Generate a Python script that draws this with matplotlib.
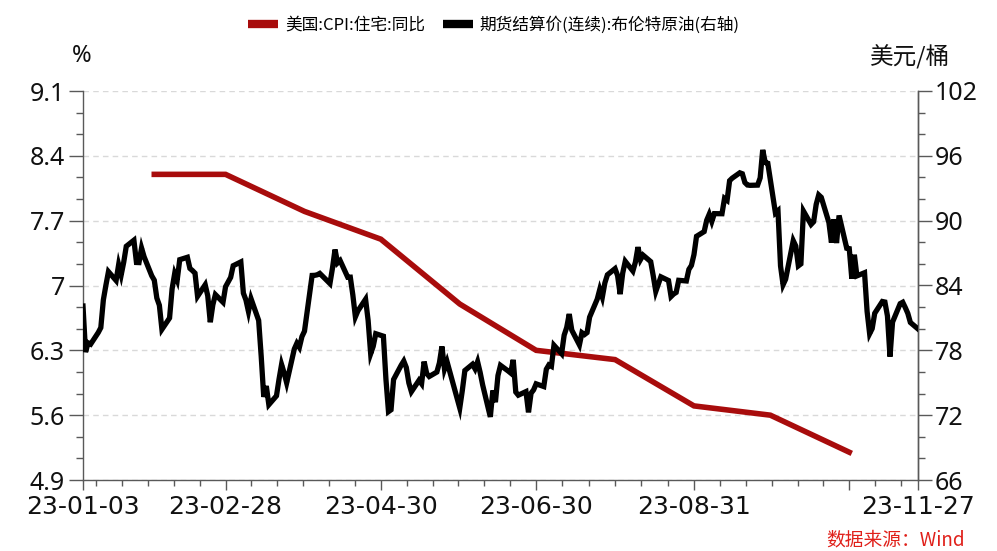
import matplotlib
matplotlib.use('Agg')
import matplotlib.pyplot as plt
import matplotlib.dates as mdates
from matplotlib.lines import Line2D
from matplotlib.font_manager import FontProperties
import numpy as np
import pandas as pd

# ---------------- data ----------------
cpi_dates = ['2023-01-31', '2023-02-28', '2023-03-31', '2023-04-30', '2023-05-31',
             '2023-06-30', '2023-07-31', '2023-08-31', '2023-09-30', '2023-10-31']
cpi_values = [8.2, 8.2, 7.8, 7.5, 6.8, 6.3, 6.2, 5.7, 5.6, 5.2]

brent_dates = [
    '2023-01-03', '2023-01-04', '2023-01-05', '2023-01-06', '2023-01-09', '2023-01-10', '2023-01-11',
    '2023-01-12', '2023-01-13', '2023-01-16', '2023-01-17', '2023-01-18', '2023-01-19', '2023-01-20',
    '2023-01-23', '2023-01-24', '2023-01-25', '2023-01-26', '2023-01-27', '2023-01-30', '2023-01-31',
    '2023-02-01', '2023-02-02', '2023-02-03', '2023-02-06', '2023-02-07', '2023-02-08', '2023-02-09',
    '2023-02-10', '2023-02-13', '2023-02-14', '2023-02-15', '2023-02-16', '2023-02-17', '2023-02-20',
    '2023-02-21', '2023-02-22', '2023-02-23', '2023-02-24', '2023-02-27', '2023-02-28',
    '2023-03-01', '2023-03-02', '2023-03-03', '2023-03-06', '2023-03-07', '2023-03-08', '2023-03-09',
    '2023-03-10', '2023-03-13', '2023-03-14', '2023-03-15', '2023-03-16', '2023-03-17', '2023-03-20',
    '2023-03-21', '2023-03-22', '2023-03-23', '2023-03-24', '2023-03-27', '2023-03-28', '2023-03-29',
    '2023-03-30', '2023-03-31',
    '2023-04-03', '2023-04-04', '2023-04-05', '2023-04-06', '2023-04-10', '2023-04-11', '2023-04-12',
    '2023-04-13', '2023-04-14', '2023-04-17', '2023-04-18', '2023-04-19', '2023-04-20', '2023-04-21',
    '2023-04-24', '2023-04-25', '2023-04-26', '2023-04-27', '2023-04-28',
    '2023-05-01', '2023-05-02', '2023-05-03', '2023-05-04', '2023-05-05', '2023-05-08', '2023-05-09',
    '2023-05-10', '2023-05-11', '2023-05-12', '2023-05-15', '2023-05-16', '2023-05-17', '2023-05-18',
    '2023-05-19', '2023-05-22', '2023-05-23', '2023-05-24', '2023-05-25', '2023-05-26', '2023-05-30',
    '2023-05-31',
    '2023-06-01', '2023-06-02', '2023-06-05', '2023-06-06', '2023-06-07', '2023-06-08', '2023-06-09',
    '2023-06-12', '2023-06-13', '2023-06-14', '2023-06-15', '2023-06-16', '2023-06-19', '2023-06-20',
    '2023-06-21', '2023-06-22', '2023-06-23', '2023-06-26', '2023-06-27', '2023-06-28', '2023-06-29',
    '2023-06-30',
    '2023-07-03', '2023-07-04', '2023-07-05', '2023-07-06', '2023-07-07', '2023-07-10', '2023-07-11',
    '2023-07-12', '2023-07-13', '2023-07-14', '2023-07-17', '2023-07-18', '2023-07-19', '2023-07-20',
    '2023-07-21', '2023-07-24', '2023-07-25', '2023-07-26', '2023-07-27', '2023-07-28', '2023-07-31',
    '2023-08-01', '2023-08-02', '2023-08-03', '2023-08-04', '2023-08-07', '2023-08-08', '2023-08-09',
    '2023-08-10', '2023-08-11', '2023-08-14', '2023-08-15', '2023-08-16', '2023-08-17', '2023-08-18',
    '2023-08-21', '2023-08-22', '2023-08-23', '2023-08-24', '2023-08-25', '2023-08-28', '2023-08-29',
    '2023-08-30', '2023-08-31',
    '2023-09-01', '2023-09-04', '2023-09-05', '2023-09-06', '2023-09-07', '2023-09-08', '2023-09-11',
    '2023-09-12', '2023-09-13', '2023-09-14', '2023-09-15', '2023-09-18', '2023-09-19', '2023-09-20',
    '2023-09-21', '2023-09-22', '2023-09-25', '2023-09-26', '2023-09-27', '2023-09-28', '2023-09-29',
    '2023-10-02', '2023-10-03', '2023-10-04', '2023-10-05', '2023-10-06', '2023-10-09', '2023-10-10',
    '2023-10-11', '2023-10-12', '2023-10-13', '2023-10-16', '2023-10-17', '2023-10-18', '2023-10-19',
    '2023-10-20', '2023-10-23', '2023-10-24', '2023-10-25', '2023-10-26', '2023-10-27', '2023-10-30',
    '2023-10-31',
    '2023-11-01', '2023-11-02', '2023-11-03', '2023-11-06', '2023-11-07', '2023-11-08', '2023-11-09',
    '2023-11-10', '2023-11-13', '2023-11-14', '2023-11-15', '2023-11-16', '2023-11-17', '2023-11-20',
    '2023-11-21', '2023-11-22', '2023-11-23', '2023-11-24', '2023-11-27',
]
brent_values = [
    82.10, 77.84, 78.69, 78.57, 79.65, 80.10, 82.67,
    84.03, 85.28, 84.46, 85.92, 84.98, 86.16, 87.63,
    88.19, 86.13, 86.12, 87.47, 86.66, 84.90, 84.49,
    82.84, 82.17, 79.94, 80.99, 83.69, 85.09, 84.50,
    86.39, 86.61, 85.58, 85.38, 85.14, 83.00, 84.07,
    83.05, 80.60, 82.21, 83.16, 82.45, 83.89,
    84.31, 84.75, 85.83, 86.18, 83.29, 82.66, 81.59,
    82.78, 80.77, 77.45, 73.69, 74.70, 72.97, 73.79,
    75.32, 76.69, 75.91, 74.99, 78.12, 78.65, 78.28,
    79.27, 79.77,
    84.93, 84.94, 84.99, 85.12, 84.18, 85.61, 87.33,
    86.09, 86.31, 84.76, 84.77, 83.12, 81.10, 81.66,
    82.73, 80.77, 77.69, 78.37, 79.54,
    79.31, 75.32, 72.33, 72.50, 75.30, 76.63, 77.01,
    76.41, 74.98, 74.17, 75.23, 74.91, 76.96, 75.86,
    75.58, 75.99, 76.84, 78.36, 76.26, 76.95, 73.54,
    72.66,
    74.28, 76.13, 76.71, 76.29, 76.95, 75.96, 74.79,
    71.84, 74.29, 73.20, 75.67, 76.61, 76.09, 75.90,
    77.12, 74.14, 73.85, 74.18, 72.26, 74.03, 74.34,
    74.90,
    74.65, 76.25, 76.65, 76.52, 78.47, 77.69, 79.40,
    80.11, 81.36, 79.87, 78.50, 79.63, 79.46, 79.64,
    81.07, 82.74, 83.64, 82.92, 84.24, 84.99, 85.56,
    84.91, 83.20, 85.14, 86.24, 85.34, 86.17, 87.55,
    86.40, 86.81, 86.21, 84.89, 83.45, 84.12, 84.80,
    84.46, 82.98, 83.21, 83.36, 84.48, 84.42, 85.49,
    85.86, 86.86,
    88.55, 88.99, 90.04, 90.60, 89.92, 90.65, 90.64,
    92.06, 91.88, 93.70, 93.93, 94.43, 94.34, 93.53,
    93.30, 93.27, 93.29, 93.96, 96.55, 95.38, 95.31,
    90.71, 90.92, 85.81, 84.07, 84.58, 88.15, 87.65,
    85.82, 86.00, 90.89, 89.65, 89.90, 91.50, 92.38,
    92.16, 89.83, 87.97, 90.13, 87.93, 90.48, 87.45,
    87.41,
    84.63, 86.85, 84.89, 85.18, 81.61, 79.54, 80.01,
    81.43, 82.52, 82.47, 81.18, 77.42, 80.61, 82.32,
    82.45, 81.96, 81.42, 80.58, 79.98,
]

left_ticks = [4.9, 5.6, 6.3, 7.0, 7.7, 8.4, 9.1]
left_labels = ['4.9', '5.6', '6.3', '7', '7.7', '8.4', '9.1']
right_ticks = [66, 72, 78, 84, 90, 96, 102]
right_labels = ['66', '72', '78', '84', '90', '96', '102']
x_tick_dates = ['2023-01-03', '2023-02-28', '2023-04-30', '2023-06-30',
                '2023-08-31', '2023-10-31', '2023-11-27']
x_tick_labels = ['23-01-03', '23-02-28', '23-04-30', '23-06-30', '23-08-31', '', '23-11-27']

series_names = ['美国:CPI:住宅:同比', '期货结算价(连续):布伦特原油(右轴)']

# ---------------- style ----------------
RED = '#A80C0C'
BLACK = '#000000'
AXC = '#595959'
NUM_FONT = 'Noto Sans'
DATE_FONT = 'DejaVu Sans'
CJK = ['Noto Sans CJK SC', 'DejaVu Sans']

W, H = 997, 551
fig = plt.figure(figsize=(W / 100, H / 100), dpi=100)
ax = fig.add_axes([83 / W, 71 / H, 835 / W, 389 / H])

cpi_x = mdates.date2num(pd.to_datetime(cpi_dates))
brent_x = mdates.date2num(pd.to_datetime(brent_dates))
xt = mdates.date2num(pd.to_datetime(x_tick_dates))

ax.plot(cpi_x, cpi_values, color=RED, lw=4.0, solid_joinstyle='miter', zorder=3)
ax.set_ylim(4.9, 9.1)
ax.set_xlim(xt[0], xt[-1])
ax.set_yticks(left_ticks)
ax.set_yticklabels(left_labels)
ax.set_yticks(np.arange(4.9, 9.1 + 1e-6, 0.7 / 3), minor=True)
ax.yaxis.grid(True, which='major', color='#d9d9d9', linestyle=(0, (4, 3)), linewidth=1)
ax.set_axisbelow(True)

# x ticks
ax.set_xticks(xt)
ax.set_xticklabels(x_tick_labels)
minor = []
for a, b in zip(xt[1:-2], xt[2:-1]):
    minor.extend(np.linspace(a, b, 7)[1:-1])
step0 = (xt[2] - xt[1]) / 6
v = xt[1] - step0
while v > xt[0] + 2:
    minor.append(v)
    v -= step0
step1 = (xt[-2] - xt[-3]) / 6
v = xt[-2] + step1
while v < xt[-1] - 2:
    minor.append(v)
    v += step1
ax.set_xticks(minor, minor=True)

ax.spines['top'].set_visible(False)
for s in ['left', 'bottom', 'right']:
    ax.spines[s].set_color(AXC)
    ax.spines[s].set_linewidth(1)

ax.tick_params(axis='y', which='major', direction='out', length=10, width=1, color=AXC, pad=3,
               labelsize=18, labelcolor='#111111')
ax.tick_params(axis='y', which='minor', direction='out', length=5, width=1, color=AXC)
ax.tick_params(axis='x', which='major', direction='out', length=7, width=1, color=AXC, pad=3.5,
               labelsize=18, labelcolor='#111111')
ax.tick_params(axis='x', which='minor', direction='out', length=4.5, width=1, color=AXC)
for lab in ax.get_yticklabels():
    lab.set_fontfamily(NUM_FONT)
for lab in ax.get_xticklabels():
    lab.set_fontfamily(DATE_FONT)

# right axis
ax2 = ax.twinx()
ax2.plot(brent_x, brent_values, color=BLACK, lw=3.8, solid_joinstyle='miter', zorder=4)
ax2.set_ylim(66, 102)
ax2.set_xlim(xt[0], xt[-1])
ax2.set_yticks(right_ticks)
ax2.set_yticklabels(right_labels)
ax2.set_yticks(np.arange(66, 102.1, 2), minor=True)
for s in ['top', 'left', 'bottom']:
    ax2.spines[s].set_visible(False)
ax2.spines['right'].set_color(AXC)
ax2.spines['right'].set_linewidth(1)
ax2.tick_params(axis='y', which='major', direction='out', length=10, width=1, color=AXC, pad=2,
                labelsize=18, labelcolor='#111111')
ax2.tick_params(axis='y', which='minor', direction='out', length=5, width=1, color=AXC)
for lab in ax2.get_yticklabels():
    lab.set_fontfamily(NUM_FONT)

# legend
handles = [Line2D([], [], color=RED, lw=6, solid_capstyle='butt'),
           Line2D([], [], color=BLACK, lw=6, solid_capstyle='butt')]
fig.legend(handles, series_names, loc='center', bbox_to_anchor=(494 / W, 1 - 25 / H), ncol=2,
           frameon=False, prop=FontProperties(family=CJK, size=12), handlelength=1.8,
           handletextpad=0.4, columnspacing=1.1, borderpad=0, borderaxespad=0)

# unit labels and source
fig.text(82 / W, 1 - 56 / H, '%', ha='center', va='center', fontsize=17, family=NUM_FONT,
         color='#111111')
fig.text(910 / W, 1 - 57 / H, '美元/桶', ha='center', va='center', fontsize=17, family=CJK,
         color='#111111')
fig.text(965 / W, 1 - 540 / H, '数据来源：Wind', ha='right', va='center', fontsize=13.5,
         family=CJK, color='#E0201A')

fig.savefig('out.png', dpi=100)
